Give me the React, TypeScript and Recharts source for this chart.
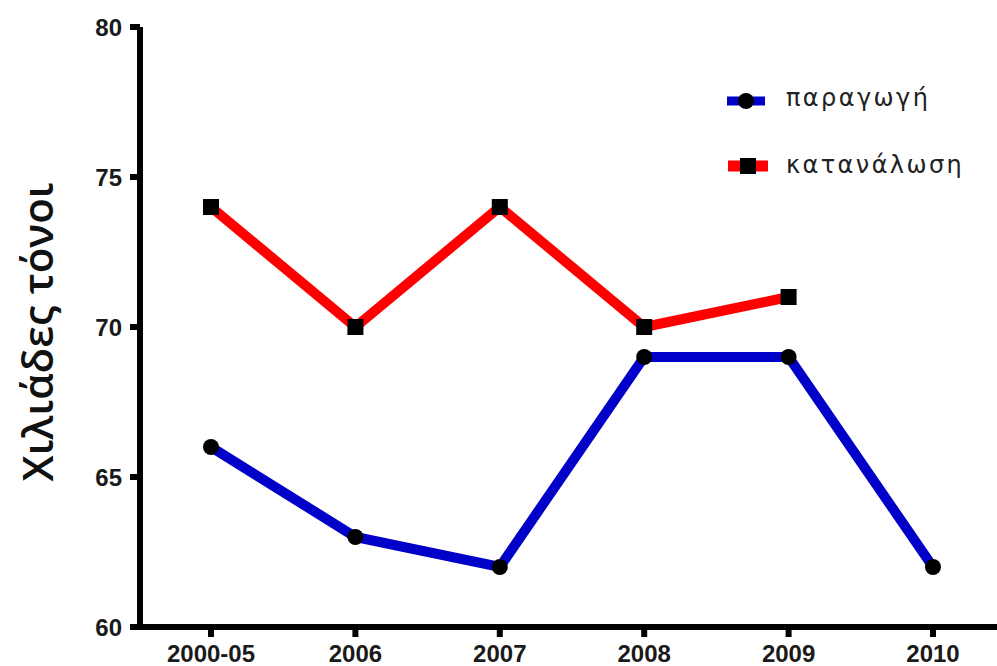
import React from "react";
import { LineChart, Line, XAxis, YAxis, Legend } from "recharts";

// values
const years = ["2000-05", "2006", "2007", "2008", "2009", "2010"];
const production = [66, 63, 62, 69, 69, 62];
const consumption = [74, 70, 74, 70, 71, null];
const yTicks = [60, 65, 70, 75, 80];

const seriesNames = ["παραγωγή", "κατανάλωση"];
const yLabel = "Χιλιάδες τόνοι";

const data = years.map((year, i) => ({
  year,
  prod: production[i],
  cons: consumption[i],
}));

const BLUE = "#0000c8";
const RED = "#ff0000";

const tickStyle = {
  fontFamily: "Liberation Sans, Arial, sans-serif",
  fontWeight: 700,
  fontSize: 24,
  fill: "#1a1a1a",
};

const legendText = {
  fontFamily: "DejaVu Sans, sans-serif",
  fontSize: 24,
  letterSpacing: 2.4,
  fill: "#222",
};

const SquareDot = (props: any) => {
  const { cx, cy } = props;
  if (cx == null || cy == null) return null;
  return <rect x={cx - 8} y={cy - 8} width={16} height={16} fill="#000" />;
};

const CircleDot = (props: any) => {
  const { cx, cy } = props;
  if (cx == null || cy == null) return null;
  return <circle cx={cx} cy={cy} r={8} fill="#000" />;
};

const LegendBox = () => (
  <svg width={300} height={120}>
    <g>
      <line x1={2} y1={31} x2={40} y2={31} stroke={BLUE} strokeWidth={9} />
      <circle cx={21} cy={31} r={8} fill="#000" />
      <text x={61} y={36} {...legendText}>
        {seriesNames[0]}
      </text>
    </g>
    <g>
      <line x1={3} y1={96} x2={43} y2={96} stroke={RED} strokeWidth={11} />
      <rect x={15} y={88} width={16} height={16} fill="#000" />
      <text x={61} y={103} {...legendText}>
        {seriesNames[1]}
      </text>
    </g>
  </svg>
);

export default function App() {
  return (
    <div style={{ position: "absolute", left: 0, top: 0, background: "#fff" }}>
      <LineChart
        width={997}
        height={666}
        data={data}
        margin={{ top: 27, right: 0, bottom: 9, left: 0 }}
      >
        <XAxis
          dataKey="year"
          padding={{ left: 71, right: 64 }}
          height={30}
          axisLine={{ stroke: "#000", strokeWidth: 6 }}
          tickLine={{ stroke: "#000", strokeWidth: 6 }}
          tickSize={10}
          tickMargin={8}
          tick={tickStyle}
          interval={0}
        />
        <XAxis
          xAxisId="top"
          orientation="top"
          dataKey="year"
          height={0}
          tick={false}
          tickLine={false}
          axisLine={{ stroke: "#000", strokeWidth: 6 }}
        />
        <YAxis
          width={140}
          domain={[60, 80]}
          ticks={yTicks}
          axisLine={{ stroke: "#000", strokeWidth: 6 }}
          tickLine={{ stroke: "#000", strokeWidth: 6 }}
          tickSize={10}
          tickMargin={8}
          tick={tickStyle}
          label={{
            content: ({ viewBox }: any) => {
              const bx = (viewBox?.x ?? 0) + 53;
              const cy = 332;
              return (
                <text
                  x={bx}
                  y={cy}
                  transform={`rotate(-90 ${bx} ${cy})`}
                  textAnchor="middle"
                  fontFamily="Open Sans, sans-serif"
                  fontWeight={600}
                  fontSize={42}
                  fill="#111"
                >
                  {yLabel}
                </text>
              );
            },
          }}
        />
        <Legend
          layout="horizontal"
          verticalAlign="middle"
          align="center"
          wrapperStyle={{ left: 725, top: 70, width: 300, height: 120 }}
          content={() => <LegendBox />}
        />
        <Line
          dataKey="prod"
          name={seriesNames[0]}
          stroke={BLUE}
          strokeWidth={10}
          dot={<CircleDot />}
          activeDot={false}
          isAnimationActive={false}
        />
        <Line
          dataKey="cons"
          name={seriesNames[1]}
          stroke={RED}
          strokeWidth={10}
          dot={<SquareDot />}
          activeDot={false}
          isAnimationActive={false}
        />
      </LineChart>
    </div>
  );
}
